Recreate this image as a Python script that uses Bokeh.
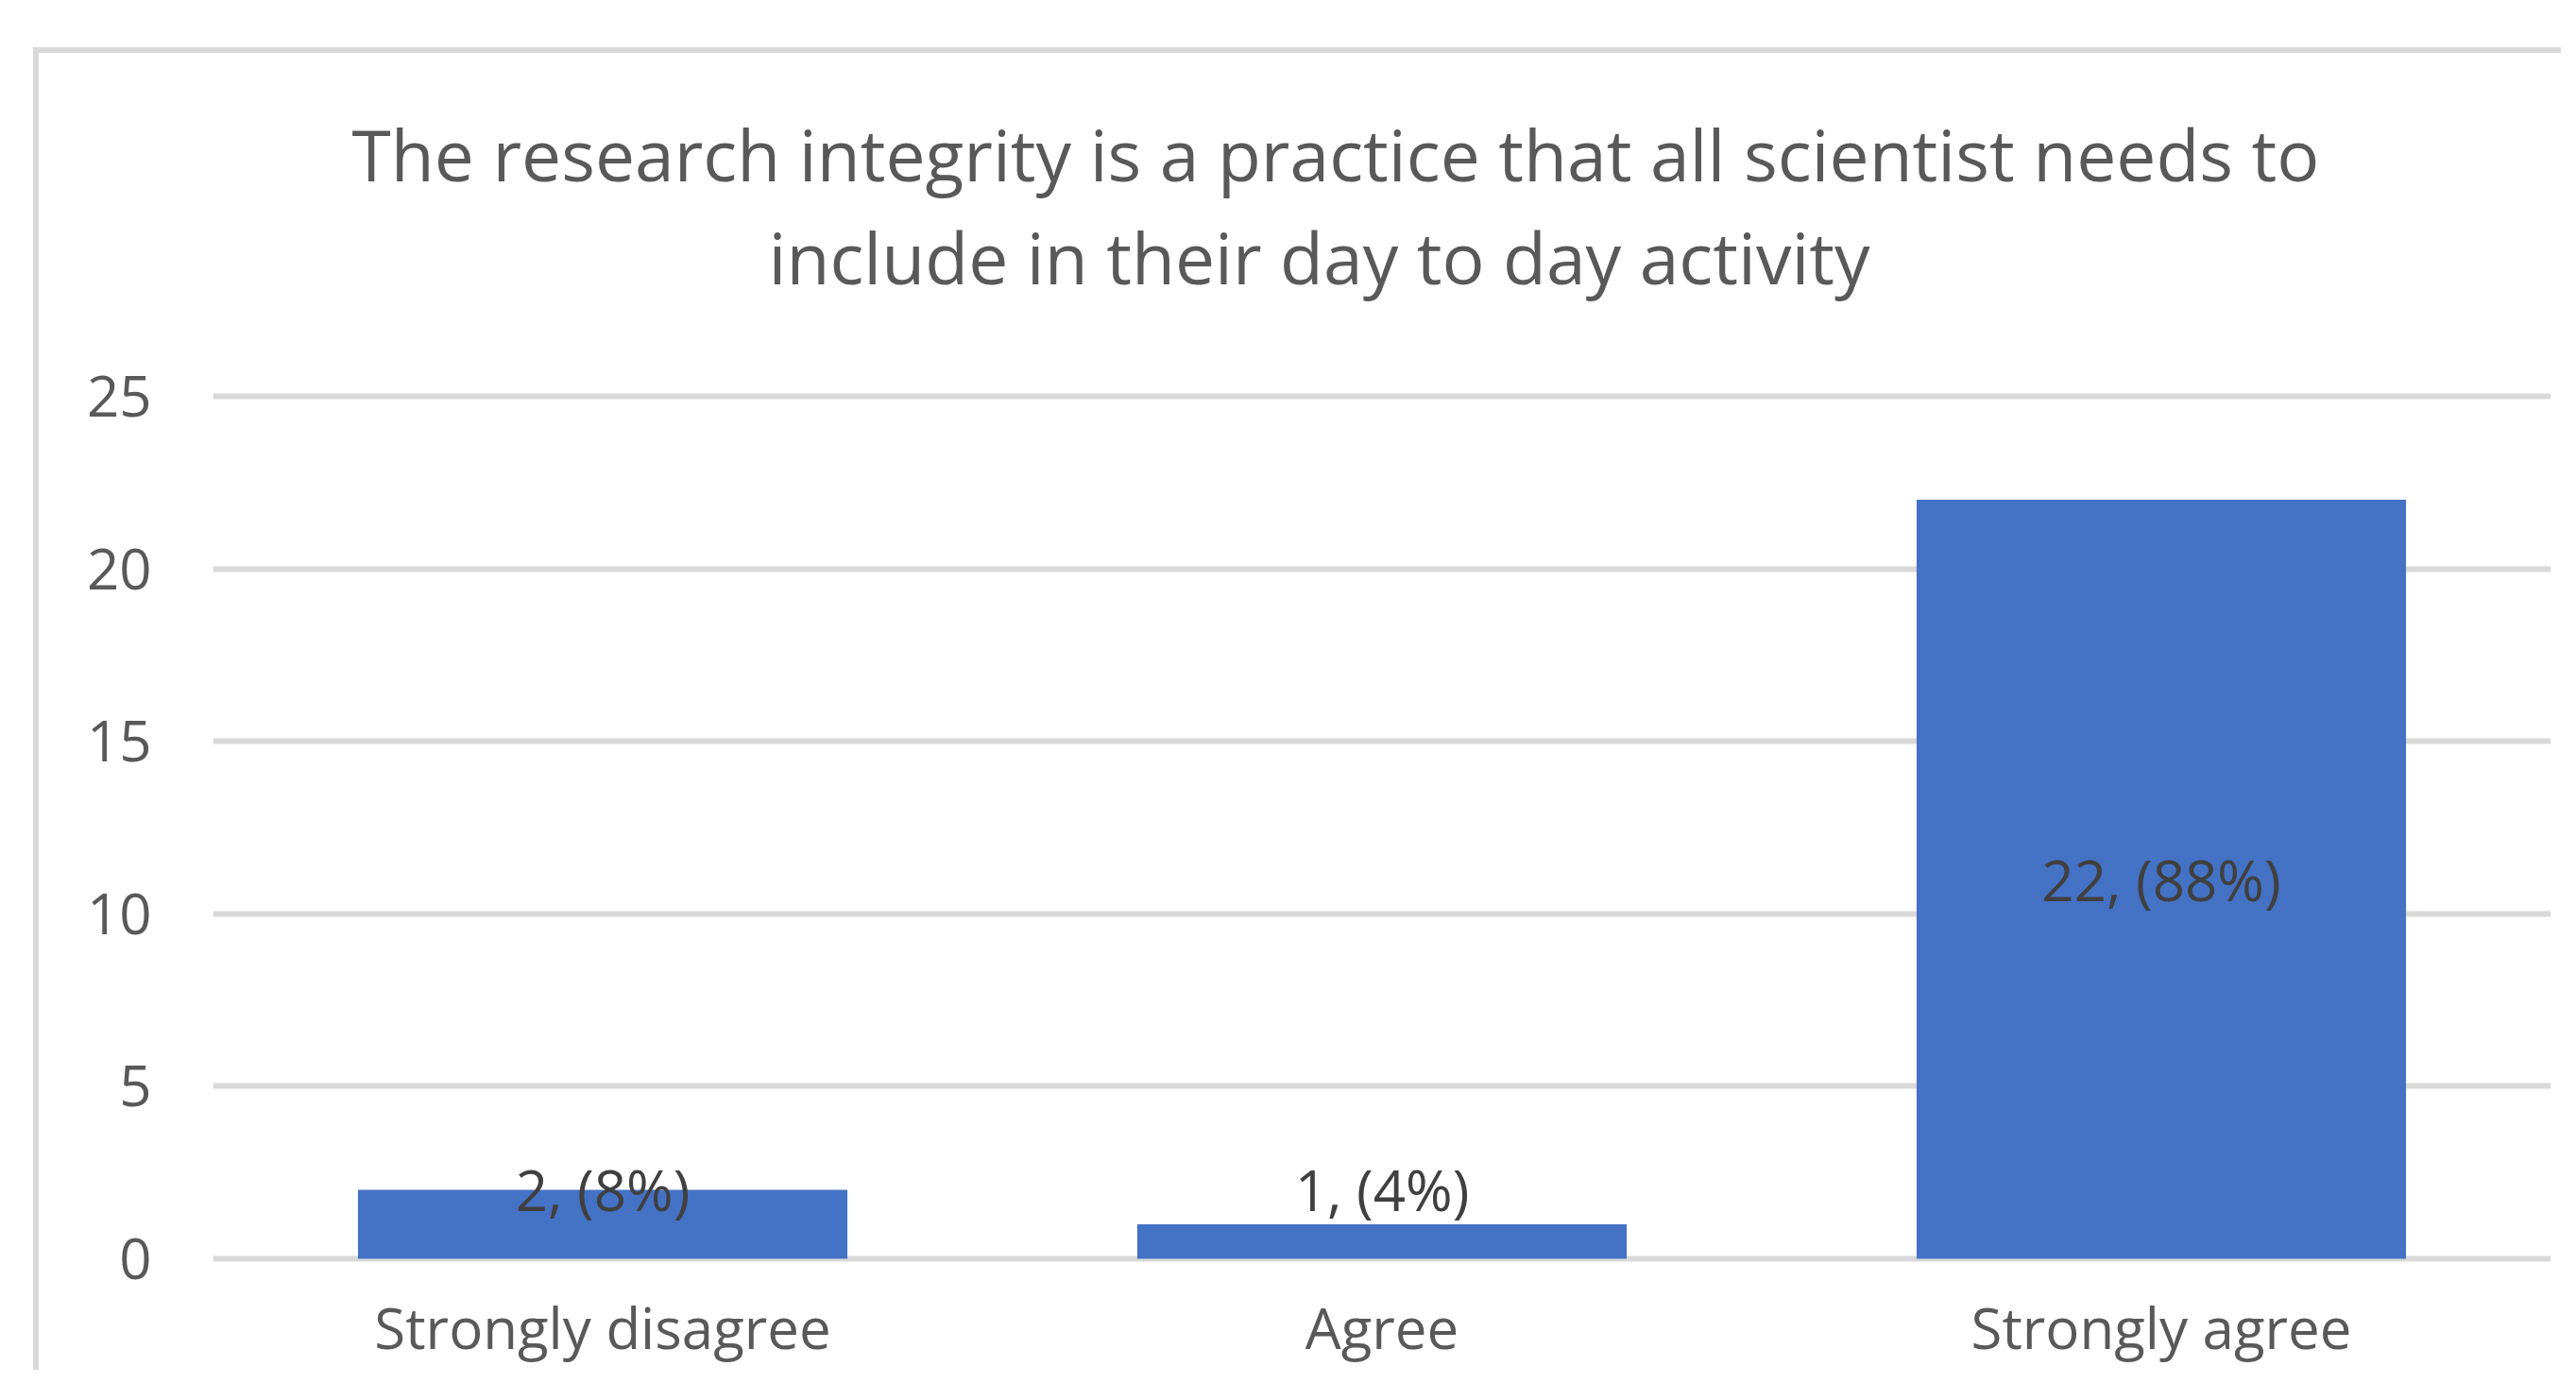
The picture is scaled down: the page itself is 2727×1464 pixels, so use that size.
from bokeh.plotting import figure
from bokeh.models import Range1d, FixedTicker, Title, ColumnDataSource
from bokeh.core.properties import value
from bokeh.embed import file_html
from bokeh.resources import INLINE

categories = ["Strongly disagree", "Agree", "Strongly agree"]
counts = [2, 1, 22]
percents = [8, 4, 88]
y_ticks = [0, 5, 10, 15, 20, 25]
title_line1 = "The research integrity is a practice that all scientist needs to"
title_line2 = "include in their  day to day activity"

labels = [f"{c}, ({p}%)" for c, p in zip(counts, percents)]
label_y = [max(c / 2, 2) for c in counts]

FONT = "Open Sans"
GRAY = "#595959"

source = ColumnDataSource(dict(cat=categories, count=counts, label=labels, ly=label_y))

p = figure(x_range=categories, y_range=Range1d(-0.3, 25.3),
           width=2676, height=1400, output_backend="svg", toolbar_location=None,
           min_border_left=184, min_border_right=17, min_border_top=352, min_border_bottom=113)
p.styles = {"border-left": "6px solid #D9D9D9", "border-top": "6px solid #D9D9D9",
            "margin-left": "35px", "margin-top": "50px"}

p.outline_line_color = None
p.background_fill_color = "white"
p.border_fill_color = "white"

p.vbar(x="cat", top="count", bottom=0, width=0.628, source=source,
       fill_color="#4472C4", line_color=None)

p.text(x="cat", y="ly", text="label", source=source, text_align="center",
       text_baseline="middle", text_font=value(FONT), text_font_size="60px",
       text_color="#404040")

p.xgrid.grid_line_color = None
p.ygrid.grid_line_color = "#D9D9D9"
p.ygrid.grid_line_width = 6
p.yaxis.ticker = FixedTicker(ticks=y_ticks)

for ax in (p.xaxis, p.yaxis):
    ax.axis_line_color = None
    ax.major_tick_line_color = None
    ax.minor_tick_line_color = None
    ax.major_tick_in = 0
    ax.major_tick_out = 0
    ax.major_label_text_font = FONT
    ax.major_label_text_font_size = "60px"
    ax.major_label_text_color = GRAY
p.yaxis.major_label_standoff = 65
p.xaxis.major_label_standoff = 20

# title: a blank spacer next to the frame, then line 2, then line 1 on top
spacer = Title(text=" ", standoff=70, text_font=FONT, text_font_size="10px")
t2 = Title(text=title_line2, align="left", offset=588, standoff=0,
           text_font=FONT, text_font_size="75px", text_font_style="normal", text_color=GRAY)
t1 = Title(text=title_line1, align="left", offset=147, standoff=10,
           text_font=FONT, text_font_size="75px", text_font_style="normal", text_color=GRAY)
p.add_layout(spacer, "above")
p.add_layout(t2, "above")
p.add_layout(t1, "above")

open("out.html", "w").write(file_html(p, INLINE))
